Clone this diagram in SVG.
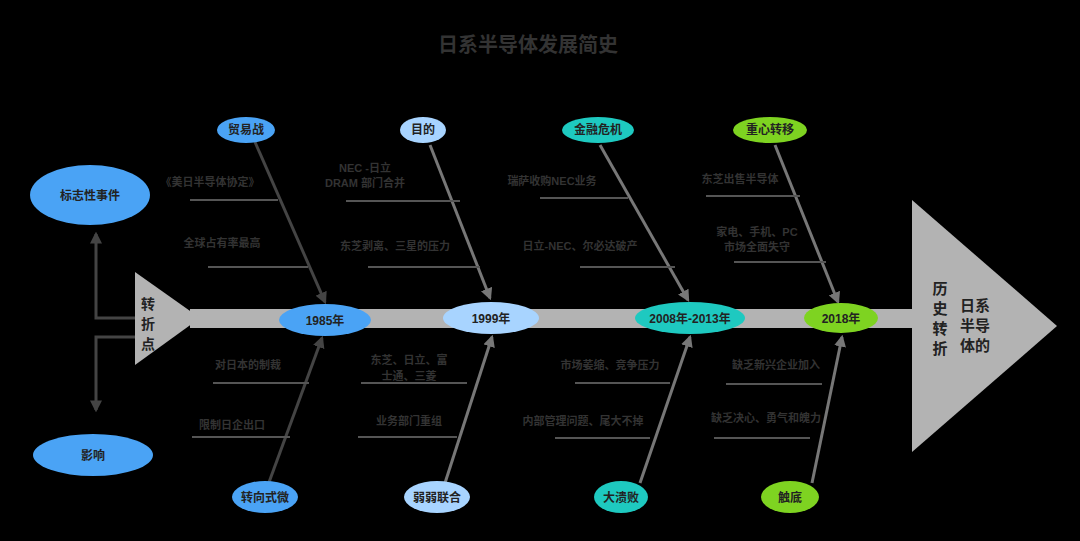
<svg xmlns="http://www.w3.org/2000/svg" width="1080" height="541" viewBox="0 0 1080 541">
<defs>
<style>
text{font-family:"Liberation Sans","Noto Sans CJK SC",sans-serif;fill:#333;font-weight:bold}
.t{font-size:11px;text-anchor:middle}
.n{font-size:12px;text-anchor:middle;fill:#222}
.b{stroke:#555;stroke-width:2}
.a{stroke:#444;stroke-width:3;marker-end:url(#ah)}
.al{stroke:#777;stroke-width:3;marker-end:url(#ahl)}
</style>
<marker id="ah" viewBox="0 0 10 10" refX="8" refY="5" markerWidth="4" markerHeight="4" orient="auto"><path d="M0,0L10,5L0,10z" fill="#444"/></marker>
<marker id="ahl" viewBox="0 0 10 10" refX="8" refY="5" markerWidth="4" markerHeight="4" orient="auto"><path d="M0,0L10,5L0,10z" fill="#777"/></marker>
</defs>
<rect width="1080" height="541" fill="#000"/>
<text x="528" y="52" style="font-size:20px;text-anchor:middle;fill:#333">日系半导体发展简史</text>
<g id="spine">
<rect x="190" y="309" width="730" height="19" fill="#b3b3b3"/>
<polygon points="135,272 200,318 135,365" fill="#b3b3b3"/>
<polygon points="912,200 1057,326 912,452" fill="#b3b3b3"/>
<text x="148" y="309" class="n" style="font-size:14px">转</text>
<text x="148" y="329" class="n" style="font-size:14px">折</text>
<text x="148" y="349" class="n" style="font-size:14px">点</text>
<text x="940" y="294" class="n" style="font-size:15px">历</text>
<text x="940" y="314" class="n" style="font-size:15px">史</text>
<text x="940" y="334" class="n" style="font-size:15px">转</text>
<text x="940" y="354" class="n" style="font-size:15px">折</text>
<text x="960" y="311" style="font-size:15px;fill:#222">日系</text>
<text x="960" y="331" style="font-size:15px;fill:#222">半导</text>
<text x="960" y="351" style="font-size:15px;fill:#222">体的</text>
</g>
<g id="connectors" fill="none">
<path d="M135,318H96V234" class="a"/>
<path d="M135,337H96V410" class="a"/>
<line x1="255" y1="142" x2="325" y2="302" class="a"/>
<line x1="430" y1="145" x2="490" y2="298" class="al"/>
<line x1="600" y1="145" x2="688" y2="300" class="al"/>
<line x1="775" y1="145" x2="838" y2="302" class="al"/>
<line x1="268" y1="485" x2="322" y2="338" class="a"/>
<line x1="445" y1="483" x2="492" y2="337" class="al"/>
<line x1="640" y1="483" x2="690" y2="337" class="al"/>
<line x1="812" y1="483" x2="842" y2="337" class="al"/>
<g class="b">
<line x1="190" y1="200" x2="278" y2="200"/><line x1="208" y1="267" x2="308" y2="267"/>
<line x1="346" y1="201" x2="460" y2="201"/><line x1="368" y1="267" x2="480" y2="267"/>
<line x1="540" y1="198" x2="628" y2="198"/><line x1="580" y1="267" x2="675" y2="267"/>
<line x1="706" y1="196" x2="800" y2="196"/><line x1="734" y1="262" x2="826" y2="262"/>
<line x1="213" y1="383" x2="309" y2="383"/><line x1="192" y1="437" x2="290" y2="437"/>
<line x1="361" y1="383" x2="467" y2="383"/><line x1="358" y1="437" x2="457" y2="437"/>
<line x1="575" y1="383" x2="670" y2="383"/><line x1="555" y1="438" x2="650" y2="438"/>
<line x1="726" y1="384" x2="822" y2="384"/><line x1="714" y1="438" x2="810" y2="438"/>
</g>
</g>
<g id="labels">
<text x="210" y="186" class="t">《美日半导体协定》</text>
<text x="222" y="247" class="t">全球占有率最高</text>
<text x="365" y="172" class="t">NEC -日立</text>
<text x="365" y="187" class="t">DRAM 部门合并</text>
<text x="395" y="250" class="t">东芝剥离、三星的压力</text>
<text x="552" y="185" class="t">瑞萨收购NEC业务</text>
<text x="580" y="250" class="t">日立-NEC、尔必达破产</text>
<text x="740" y="183" class="t">东芝出售半导体</text>
<text x="757" y="236" class="t">家电、手机、PC</text>
<text x="757" y="251" class="t">市场全面失守</text>
<text x="248" y="369" class="t">对日本的制裁</text>
<text x="232" y="429" class="t">限制日企出口</text>
<text x="409" y="364" class="t">东芝、日立、富</text>
<text x="409" y="380" class="t">士通、三菱</text>
<text x="409" y="425" class="t">业务部门重组</text>
<text x="610" y="369" class="t">市场萎缩、竞争压力</text>
<text x="583" y="425" class="t">内部管理问题、尾大不掉</text>
<text x="776" y="369" class="t">缺乏新兴企业加入</text>
<text x="766" y="422" class="t">缺乏决心、勇气和魄力</text>
</g>
<g id="n-mark"><ellipse cx="90" cy="195" rx="60" ry="30" fill="#4aa3f5"/><text x="90" y="200" class="n">标志性事件</text></g>
<g id="n-impact"><ellipse cx="93" cy="455" rx="60" ry="21" fill="#4aa3f5"/><text x="93" y="460" class="n">影响</text></g>
<g id="n-trade"><ellipse cx="246" cy="130" rx="29" ry="13" fill="#4aa3f5"/><text x="246" y="134" class="n">贸易战</text></g>
<g id="n-goal"><ellipse cx="423" cy="130" rx="23" ry="13" fill="#a8d4ff"/><text x="423" y="134" class="n">目的</text></g>
<g id="n-fin"><ellipse cx="598" cy="130" rx="36" ry="13" fill="#1ec9c0"/><text x="598" y="134" class="n">金融危机</text></g>
<g id="n-shift"><ellipse cx="770" cy="130" rx="37" ry="13" fill="#7ed321"/><text x="770" y="134" class="n">重心转移</text></g>
<g id="n-1985"><ellipse cx="325" cy="320" rx="46" ry="16" fill="#4aa3f5"/><text x="325" y="325" class="n">1985年</text></g>
<g id="n-1999"><ellipse cx="491" cy="318" rx="48" ry="16" fill="#a8d4ff"/><text x="491" y="323" class="n">1999年</text></g>
<g id="n-2008"><ellipse cx="690" cy="318" rx="55" ry="16" fill="#1ec9c0"/><text x="690" y="323" class="n">2008年-2013年</text></g>
<g id="n-2018"><ellipse cx="841" cy="318" rx="37" ry="15" fill="#7ed321"/><text x="841" y="323" class="n">2018年</text></g>
<g id="n-decline"><ellipse cx="265" cy="497" rx="33" ry="16" fill="#4aa3f5"/><text x="265" y="502" class="n">转向式微</text></g>
<g id="n-weak"><ellipse cx="437" cy="497" rx="33" ry="16" fill="#a8d4ff"/><text x="437" y="502" class="n">弱弱联合</text></g>
<g id="n-defeat"><ellipse cx="621" cy="497" rx="27" ry="16" fill="#1ec9c0"/><text x="621" y="502" class="n">大溃败</text></g>
<g id="n-bottom"><ellipse cx="790" cy="497" rx="29" ry="16" fill="#7ed321"/><text x="790" y="502" class="n">触底</text></g>
</svg>
